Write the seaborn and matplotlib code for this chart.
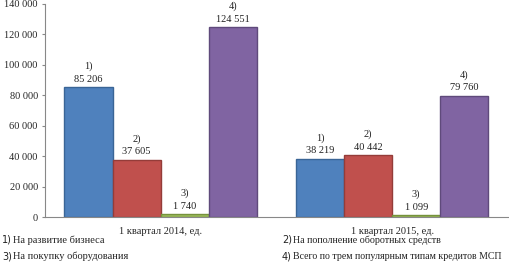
import seaborn as sns
import pandas as pd
import matplotlib.pyplot as plt
from matplotlib.ticker import FuncFormatter

periods = ['1 квартал 2014, ед.', '1 квартал 2015, ед.']
types = ['1)', '2)', '3)', '4)']
legend_texts = ['На развитие бизнеса', 'На пополнение оборотных средств',
                'На покупку оборудования', 'Всего по трем популярным типам кредитов МСП']
values_2014 = [85206, 37605, 1740, 124551]
values_2015 = [38219, 40442, 1099, 79760]
colors = ['#4F81BD', '#C0504D', '#9BBB59', '#8064A2']
edges = ['#3A6596', '#943C39', '#76923C', '#5F4A7B']

rows = []
for t, v1, v2 in zip(types, values_2014, values_2015):
    rows.append({'period': periods[0], 'type': t, 'value': v1})
    rows.append({'period': periods[1], 'type': t, 'value': v2})
df = pd.DataFrame(rows)

sns.set_style('white')
plt.rcParams['font.family'] = ['Liberation Serif', 'DejaVu Serif']

fig = plt.figure(figsize=(5.09, 2.64), dpi=100)
ax = fig.add_axes([0.088, 0.178, 0.91, 0.807])

sns.barplot(data=df, x='period', y='value', hue='type', order=periods, hue_order=types,
            palette=colors, width=0.83, saturation=1, legend=False, ax=ax)

fmt = lambda v: f'{int(v):,}'.replace(',', ' ')
for cont, ec, t in zip(ax.containers, edges, types):
    for bar in cont:
        bar.set_edgecolor(ec)
        bar.set_linewidth(1.0)
        x = bar.get_x() + bar.get_width() / 2
        h = bar.get_height()
        ax.annotate(fmt(h), (x, h), xytext=(0, 2.5), textcoords='offset points',
                    ha='center', va='bottom', fontsize=7.5, color='#222222',
                    annotation_clip=False)
        ax.annotate(t, (x, h), xytext=(0, 11.5), textcoords='offset points',
                    ha='center', va='bottom', fontsize=7.5, color='#222222',
                    annotation_clip=False)

ax.set_ylim(0, 140000)
ax.set_yticks(range(0, 140001, 20000))
ax.yaxis.set_major_formatter(FuncFormatter(lambda v, p: fmt(v)))
ax.set_xlim(-0.5, 1.5)
ax.set_xlabel('')
ax.set_ylabel('')
ax.tick_params(axis='y', labelsize=7.5, length=2, color='#888888', pad=3, left=True)
ax.tick_params(axis='x', labelsize=7.5, length=0, pad=7)
for s in ['top', 'right']:
    ax.spines[s].set_visible(False)
for s in ['left', 'bottom']:
    ax.spines[s].set_color('#888888')
    ax.spines[s].set_linewidth(0.8)

# legend as text rows below the chart
pos = [(0.004, 0.091), (0.554, 0.091), (0.004, 0.030), (0.554, 0.030)]
sizes = [7.5, 7.2, 7.5, 7.1]
for t, txt, (px, py), fs in zip(types, legend_texts, pos, sizes):
    fig.text(px, py, t, fontsize=7, family=['DejaVu Sans'], va='center', color='#222222')
    fig.text(px + 0.021, py, txt, fontsize=fs, va='center', color='#222222')

fig.savefig('out.png', dpi=100)
